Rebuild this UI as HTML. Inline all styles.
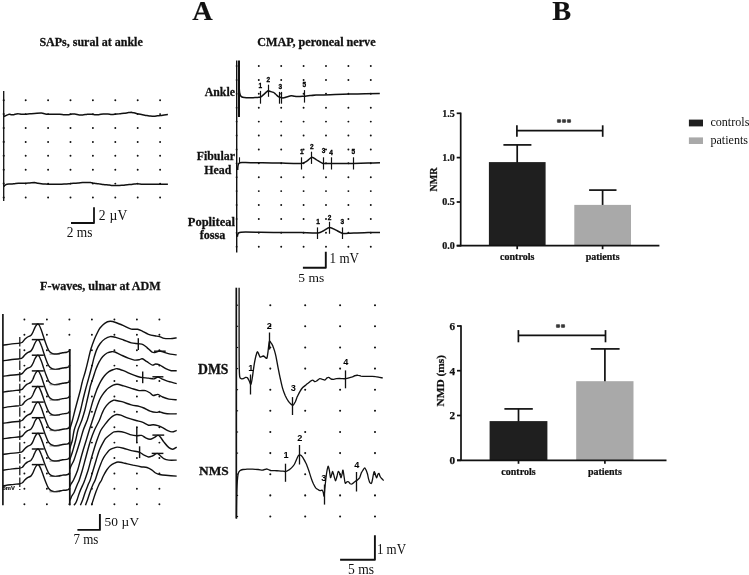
<!DOCTYPE html>
<html><head><meta charset="utf-8"><title>Figure</title>
<style>
html,body{margin:0;padding:0;background:#fff;}
body{width:749px;height:575px;overflow:hidden;font-family:"Liberation Serif",serif;}
svg{display:block;}
svg{filter:grayscale(1);}
</style></head><body>
<svg width="749" height="575" viewBox="0 0 749 575">
<rect x="0" y="0" width="749" height="575" fill="#ffffff"/>
<text x="202.5" y="19.5" font-family="'Liberation Serif', serif" font-size="28.30" font-weight="bold" stroke="#111" stroke-width="0.15" text-anchor="middle" fill="#111" >A</text>
<text x="561.8" y="19.6" font-family="'Liberation Serif', serif" font-size="28.30" font-weight="bold" stroke="#111" stroke-width="0.15" text-anchor="middle" fill="#111" >B</text>
<text x="39.4" y="46.0" font-family="'Liberation Serif', serif" font-size="12.00" font-weight="bold" stroke="#111" stroke-width="0.26" text-anchor="start" fill="#111" >SAPs, sural at ankle</text>
<text x="257.2" y="45.9" font-family="'Liberation Serif', serif" font-size="12.15" font-weight="bold" stroke="#111" stroke-width="0.27" text-anchor="start" fill="#111" >CMAP, peroneal nerve</text>
<text x="40.0" y="289.6" font-family="'Liberation Serif', serif" font-size="12.10" font-weight="bold" stroke="#111" stroke-width="0.27" text-anchor="start" fill="#111" >F-waves, ulnar at ADM</text>
<line x1="3.7" y1="91.0" x2="3.7" y2="201.0" stroke="#111" stroke-width="1.32" />
<path d="M25.7 100.2h0M48.1 100.2h0M70.5 100.2h0M92.9 100.2h0M115.3 100.2h0M137.7 100.2h0M160.1 100.2h0M25.7 114.1h0M48.1 114.1h0M70.5 114.1h0M92.9 114.1h0M115.3 114.1h0M137.7 114.1h0M160.1 114.1h0M25.7 128.0h0M48.1 128.0h0M70.5 128.0h0M92.9 128.0h0M115.3 128.0h0M137.7 128.0h0M160.1 128.0h0M25.7 141.9h0M48.1 141.9h0M70.5 141.9h0M92.9 141.9h0M115.3 141.9h0M137.7 141.9h0M160.1 141.9h0M25.7 155.8h0M48.1 155.8h0M70.5 155.8h0M92.9 155.8h0M115.3 155.8h0M137.7 155.8h0M160.1 155.8h0M25.7 169.7h0M48.1 169.7h0M70.5 169.7h0M92.9 169.7h0M115.3 169.7h0M137.7 169.7h0M160.1 169.7h0M25.7 183.6h0M48.1 183.6h0M70.5 183.6h0M92.9 183.6h0M115.3 183.6h0M137.7 183.6h0M160.1 183.6h0M25.7 197.5h0M48.1 197.5h0M70.5 197.5h0M92.9 197.5h0M115.3 197.5h0M137.7 197.5h0M160.1 197.5h0" stroke="#111" stroke-width="1.95" stroke-linecap="round" fill="none"/>
<path d="M3.7 100.2h0M3.7 114.1h0M3.7 128.0h0M3.7 141.9h0M3.7 155.8h0M3.7 169.7h0M3.7 183.6h0M3.7 197.5h0" stroke="#111" stroke-width="2.08" stroke-linecap="round" fill="none"/>
<path d="M3.9 116.5C4.2 116.4 4.9 116.0 5.7 115.6C6.6 115.2 8.2 114.4 9.2 114.2C10.1 114.1 10.7 114.6 11.5 114.7C12.2 114.8 13.0 114.8 13.8 114.7C14.5 114.6 15.3 114.2 16.1 114.0C16.8 113.9 17.4 113.7 18.4 113.8C19.3 113.8 20.7 114.2 21.8 114.2C23.0 114.3 23.9 114.3 25.3 114.2C26.6 114.2 28.3 113.9 29.9 113.8C31.4 113.7 32.5 113.7 34.4 113.5C36.4 113.4 39.6 113.1 41.3 113.1C43.1 113.1 43.6 113.6 44.8 113.8C45.9 114.0 46.7 114.2 48.2 114.2C49.8 114.3 52.0 114.2 54.0 114.2C55.9 114.2 58.0 114.2 59.7 114.2C61.4 114.3 62.8 114.6 64.3 114.7C65.8 114.8 67.5 114.8 68.9 114.7C70.2 114.6 71.2 114.1 72.3 114.0C73.5 113.9 74.6 114.1 75.8 114.2C76.9 114.4 78.1 114.8 79.2 114.9C80.4 115.0 81.3 115.0 82.7 114.9C84.0 114.8 85.7 114.4 87.3 114.2C88.8 114.1 90.5 114.2 91.8 114.2C93.2 114.3 94.1 114.6 95.3 114.7C96.4 114.8 97.4 114.8 98.7 114.7C100.1 114.6 101.8 114.1 103.3 114.0C104.9 113.9 106.6 113.9 107.9 114.0C109.3 114.1 110.2 114.4 111.4 114.5C112.5 114.5 113.5 114.4 114.8 114.2C116.2 114.1 117.9 113.9 119.4 113.8C120.9 113.6 122.5 113.5 124.0 113.3C125.5 113.1 127.2 112.8 128.6 112.6C129.9 112.5 131.0 112.3 132.0 112.4C133.1 112.5 134.1 112.9 135.0 113.1C136.0 113.3 136.5 113.5 137.8 113.8C139.0 114.0 140.8 114.4 142.4 114.7C143.9 115.0 145.6 115.4 147.0 115.6C148.3 115.8 149.3 116.0 150.4 116.1C151.5 116.2 152.7 116.3 153.8 116.3C155.0 116.3 156.1 116.0 157.3 115.8C158.4 115.7 159.6 115.8 160.7 115.6C161.9 115.5 163.0 115.1 164.2 114.9C165.4 114.7 167.2 114.5 167.9 114.5" fill="none" stroke="#111" stroke-width="1.51" stroke-linejoin="round" stroke-linecap="butt" />
<path d="M3.9 186.5C4.1 186.3 4.6 185.5 5.1 185.2C5.5 184.8 6.0 184.4 6.9 184.2C7.8 184.0 9.2 184.1 10.3 184.0C11.5 183.9 12.4 183.9 13.8 183.8C15.1 183.7 16.8 183.4 18.4 183.3C19.9 183.2 21.2 183.4 23.0 183.3C24.7 183.3 26.8 183.2 28.7 183.1C30.6 183.0 32.9 182.6 34.4 182.6C36.0 182.7 36.7 183.1 37.9 183.3C39.0 183.5 40.2 183.7 41.3 183.8C42.5 183.9 43.6 183.9 44.8 184.0C45.9 184.1 46.7 184.2 48.2 184.2C49.8 184.3 52.0 184.2 54.0 184.2C55.9 184.2 58.0 184.3 59.7 184.2C61.4 184.2 62.8 184.1 64.3 184.0C65.8 183.9 67.4 183.9 68.9 183.8C70.4 183.7 71.9 183.4 73.5 183.3C75.0 183.2 76.5 183.2 78.1 183.1C79.6 183.0 81.1 182.7 82.7 182.6C84.2 182.5 85.9 182.4 87.3 182.4C88.6 182.4 89.7 182.6 90.7 182.6C91.7 182.7 92.1 182.7 93.0 182.9C93.9 183.0 95.0 183.4 96.0 183.5C96.9 183.7 97.5 183.6 98.7 183.8C100.0 183.9 101.8 184.3 103.3 184.5C104.9 184.7 106.6 184.8 107.9 184.9C109.3 185.1 110.2 185.3 111.4 185.4C112.5 185.5 113.5 185.4 114.8 185.4C116.2 185.4 117.9 185.4 119.4 185.4C120.9 185.3 122.7 185.3 124.0 185.2C125.3 185.0 126.3 184.8 127.4 184.7C128.6 184.6 129.7 184.6 130.9 184.5C132.0 184.4 133.2 184.1 134.3 184.0C135.5 183.9 136.4 183.7 137.8 183.8C139.1 183.8 140.8 184.2 142.4 184.2C143.9 184.3 145.0 184.2 147.0 184.2C148.9 184.2 151.5 184.2 153.8 184.2C156.1 184.2 158.4 184.2 160.7 184.2C163.1 184.2 166.7 184.2 167.9 184.2" fill="none" stroke="#111" stroke-width="1.51" stroke-linejoin="round" stroke-linecap="butt" />
<path d="M71.0 223.0L94.0 223.0L94.0 207.2" fill="none" stroke="#111" stroke-width="1.79" stroke-linejoin="round" stroke-linecap="butt" />
<text x="98.8" y="220.3" font-family="'Liberation Serif', serif" font-size="13.60"  text-anchor="start" fill="#111" textLength="28.6">2 µV</text>
<text x="66.8" y="237.3" font-family="'Liberation Serif', serif" font-size="14.20"  text-anchor="start" fill="#111" textLength="25.7" lengthAdjust="spacingAndGlyphs">2 ms</text>
<line x1="236.7" y1="60.5" x2="236.7" y2="252.5" stroke="#111" stroke-width="1.43" />
<line x1="239.0" y1="60.5" x2="239.0" y2="117.0" stroke="#111" stroke-width="2.04" />
<path d="M258.8 66.0h0M281.2 66.0h0M303.6 66.0h0M326.0 66.0h0M348.4 66.0h0M370.8 66.0h0M258.8 79.9h0M281.2 79.9h0M303.6 79.9h0M326.0 79.9h0M348.4 79.9h0M370.8 79.9h0M258.8 93.8h0M281.2 93.8h0M303.6 93.8h0M326.0 93.8h0M348.4 93.8h0M370.8 93.8h0M258.8 107.7h0M281.2 107.7h0M303.6 107.7h0M326.0 107.7h0M348.4 107.7h0M370.8 107.7h0M258.8 121.6h0M281.2 121.6h0M303.6 121.6h0M326.0 121.6h0M348.4 121.6h0M370.8 121.6h0M258.8 135.5h0M281.2 135.5h0M303.6 135.5h0M326.0 135.5h0M348.4 135.5h0M370.8 135.5h0M258.8 149.4h0M281.2 149.4h0M303.6 149.4h0M326.0 149.4h0M348.4 149.4h0M370.8 149.4h0M258.8 163.3h0M281.2 163.3h0M303.6 163.3h0M326.0 163.3h0M348.4 163.3h0M370.8 163.3h0M258.8 177.2h0M281.2 177.2h0M303.6 177.2h0M326.0 177.2h0M348.4 177.2h0M370.8 177.2h0M258.8 191.1h0M281.2 191.1h0M303.6 191.1h0M326.0 191.1h0M348.4 191.1h0M370.8 191.1h0M258.8 205.0h0M281.2 205.0h0M303.6 205.0h0M326.0 205.0h0M348.4 205.0h0M370.8 205.0h0M258.8 218.9h0M281.2 218.9h0M303.6 218.9h0M326.0 218.9h0M348.4 218.9h0M370.8 218.9h0M258.8 232.8h0M281.2 232.8h0M303.6 232.8h0M326.0 232.8h0M348.4 232.8h0M370.8 232.8h0M258.8 246.7h0M281.2 246.7h0M303.6 246.7h0M326.0 246.7h0M348.4 246.7h0M370.8 246.7h0" stroke="#111" stroke-width="1.95" stroke-linecap="round" fill="none"/>
<path d="M236.6 66.0h0M236.6 79.9h0M236.6 93.8h0M236.6 107.7h0M236.6 121.6h0M236.6 135.5h0M236.6 149.4h0M236.6 163.3h0M236.6 177.2h0M236.6 191.1h0M236.6 205.0h0M236.6 218.9h0M236.6 232.8h0M236.6 246.7h0" stroke="#111" stroke-width="1.82" stroke-linecap="round" fill="none"/>
<path d="M239.3 89.5C239.4 90.0 239.5 92.2 239.7 93.0C239.9 93.8 240.2 95.1 240.5 95.6C240.8 96.1 241.5 96.7 242.0 97.0C242.5 97.3 243.7 97.4 244.5 97.5C245.3 97.6 247.1 97.7 248.0 97.7C248.9 97.7 250.5 97.7 251.4 97.7C252.3 97.7 254.1 97.6 255.0 97.6C255.9 97.6 257.3 97.5 258.0 97.4C258.7 97.3 259.7 97.2 260.3 97.0C260.9 96.8 261.6 96.3 262.2 95.9C262.8 95.5 263.9 94.3 264.5 93.8C265.1 93.3 266.1 92.3 266.6 91.9C267.1 91.5 267.7 90.9 268.2 90.8C268.7 90.7 269.8 91.3 270.5 91.5C271.2 91.7 272.7 92.1 273.4 92.4C274.1 92.7 274.9 93.5 275.5 94.0C276.1 94.5 277.3 95.9 278.0 96.4C278.7 96.9 280.1 97.4 280.8 97.6C281.5 97.8 282.4 97.9 283.0 97.9C283.6 97.9 284.4 97.7 285.0 97.5C285.6 97.3 286.6 96.9 287.4 96.7C288.2 96.5 290.2 95.9 291.1 95.8C292.0 95.7 293.3 96.1 294.0 96.2C294.7 96.3 295.9 96.6 296.7 96.6C297.5 96.6 299.0 96.6 300.0 96.5C301.0 96.4 302.9 96.3 304.2 96.2C305.5 96.1 308.4 95.7 310.0 95.6C311.6 95.5 314.2 95.2 316.0 95.1C317.8 95.0 321.0 95.0 323.5 94.9C326.0 94.8 331.4 94.7 335.0 94.6C338.6 94.5 346.2 94.2 350.2 94.1C354.2 94.0 361.1 93.9 365.0 93.8C368.9 93.7 377.8 93.6 379.8 93.6" fill="none" stroke="#111" stroke-width="1.51" stroke-linejoin="round" stroke-linecap="butt" />
<line x1="260.5" y1="90.9" x2="260.5" y2="103.7" stroke="#111" stroke-width="1.19" />
<line x1="268.5" y1="84.7" x2="268.5" y2="96.8" stroke="#111" stroke-width="1.19" />
<line x1="304.5" y1="90.1" x2="304.5" y2="102.6" stroke="#111" stroke-width="1.19" />
<line x1="279.5" y1="91.9" x2="279.5" y2="103.7" stroke="#111" stroke-width="1.19" />
<line x1="281.5" y1="91.9" x2="281.5" y2="103.7" stroke="#111" stroke-width="1.19" />
<text x="260.2" y="88.2" font-family="'Liberation Sans', sans-serif" font-size="6.50" font-weight="bold" text-anchor="middle" fill="#000" stroke="#000" stroke-width="0.29">1</text>
<text x="268.2" y="82.1" font-family="'Liberation Sans', sans-serif" font-size="6.50" font-weight="bold" text-anchor="middle" fill="#000" stroke="#000" stroke-width="0.29">2</text>
<text x="280.3" y="88.5" font-family="'Liberation Sans', sans-serif" font-size="6.50" font-weight="bold" text-anchor="middle" fill="#000" stroke="#000" stroke-width="0.29">3</text>
<text x="304.3" y="87.4" font-family="'Liberation Sans', sans-serif" font-size="6.50" font-weight="bold" text-anchor="middle" fill="#000" stroke="#000" stroke-width="0.29">5</text>
<line x1="239.5" y1="157.3" x2="239.5" y2="162.8" stroke="#111" stroke-width="1.10" />
<path d="M237.7 170.0C237.7 169.6 237.8 167.2 237.9 166.5C238.0 165.8 238.3 164.4 238.5 164.0C238.7 163.6 239.4 163.0 239.8 162.8C240.2 162.6 241.3 162.6 242.0 162.6C242.7 162.6 243.3 162.5 245.6 162.5C248.0 162.6 258.1 162.8 262.3 162.8C266.5 162.9 277.3 163.0 281.8 163.1C286.3 163.2 298.3 163.6 301.3 163.4C304.2 163.2 305.6 161.9 306.8 161.2C308.1 160.4 310.7 157.4 311.8 157.3C313.0 157.1 315.3 159.0 316.6 159.8C317.9 160.5 321.3 163.0 323.0 163.4C324.6 163.8 328.9 163.4 331.0 163.4C333.2 163.4 339.0 163.4 341.6 163.4C344.2 163.4 350.2 163.4 353.3 163.4C356.4 163.3 364.9 163.2 368.0 163.1C371.1 163.0 378.6 162.9 380.0 162.8" fill="none" stroke="#111" stroke-width="1.51" stroke-linejoin="round" stroke-linecap="butt" />
<line x1="301.5" y1="157.3" x2="301.5" y2="169.5" stroke="#111" stroke-width="1.19" />
<line x1="311.5" y1="151.7" x2="311.5" y2="163.9" stroke="#111" stroke-width="1.19" />
<line x1="323.5" y1="157.3" x2="323.5" y2="169.5" stroke="#111" stroke-width="1.19" />
<line x1="331.5" y1="157.3" x2="331.5" y2="169.5" stroke="#111" stroke-width="1.19" />
<line x1="353.5" y1="157.3" x2="353.5" y2="169.5" stroke="#111" stroke-width="1.19" />
<text x="301.8" y="153.9" font-family="'Liberation Sans', sans-serif" font-size="6.50" font-weight="bold" text-anchor="middle" fill="#000" stroke="#000" stroke-width="0.29">1</text>
<text x="311.8" y="148.9" font-family="'Liberation Sans', sans-serif" font-size="6.50" font-weight="bold" text-anchor="middle" fill="#000" stroke="#000" stroke-width="0.29">2</text>
<text x="323.5" y="153.4" font-family="'Liberation Sans', sans-serif" font-size="6.50" font-weight="bold" text-anchor="middle" fill="#000" stroke="#000" stroke-width="0.29">3</text>
<text x="331.0" y="154.5" font-family="'Liberation Sans', sans-serif" font-size="6.50" font-weight="bold" text-anchor="middle" fill="#000" stroke="#000" stroke-width="0.29">4</text>
<text x="353.3" y="153.9" font-family="'Liberation Sans', sans-serif" font-size="6.50" font-weight="bold" text-anchor="middle" fill="#000" stroke="#000" stroke-width="0.29">5</text>
<path d="M237.3 236.8C237.4 236.5 237.6 234.8 237.8 234.3C238.0 233.8 238.5 232.9 238.9 232.7C239.3 232.5 240.2 232.3 241.0 232.2C241.8 232.1 241.8 232.1 245.6 232.1C249.4 232.1 267.0 232.3 273.4 232.4C279.9 232.4 296.1 232.6 301.3 232.6C306.5 232.7 315.4 233.1 318.0 232.9C320.6 232.7 322.2 231.3 323.5 230.7C324.9 230.0 328.2 227.4 329.6 227.4C331.1 227.3 334.5 229.4 336.0 230.1C337.6 230.9 341.4 233.1 343.0 233.5C344.6 233.8 348.3 233.3 349.9 233.2C351.6 233.1 354.8 233.0 356.9 232.9C359.0 232.9 365.3 232.7 368.0 232.6C370.7 232.6 378.6 232.4 380.0 232.4" fill="none" stroke="#111" stroke-width="1.51" stroke-linejoin="round" stroke-linecap="butt" />
<line x1="317.5" y1="227.4" x2="317.5" y2="239.0" stroke="#111" stroke-width="1.19" />
<line x1="329.5" y1="221.8" x2="329.5" y2="233.8" stroke="#111" stroke-width="1.19" />
<line x1="342.5" y1="227.4" x2="342.5" y2="239.0" stroke="#111" stroke-width="1.19" />
<text x="318.0" y="223.5" font-family="'Liberation Sans', sans-serif" font-size="6.50" font-weight="bold" text-anchor="middle" fill="#000" stroke="#000" stroke-width="0.29">1</text>
<text x="329.6" y="219.8" font-family="'Liberation Sans', sans-serif" font-size="6.50" font-weight="bold" text-anchor="middle" fill="#000" stroke="#000" stroke-width="0.29">2</text>
<text x="342.4" y="223.5" font-family="'Liberation Sans', sans-serif" font-size="6.50" font-weight="bold" text-anchor="middle" fill="#000" stroke="#000" stroke-width="0.29">3</text>
<text x="234.9" y="95.9" font-family="'Liberation Serif', serif" font-size="11.80" font-weight="bold" stroke="#111" stroke-width="0.26" text-anchor="end" fill="#111" >Ankle</text>
<text x="235.0" y="160.3" font-family="'Liberation Serif', serif" font-size="11.90" font-weight="bold" stroke="#111" stroke-width="0.26" text-anchor="end" fill="#111" >Fibular</text>
<text x="231.4" y="173.9" font-family="'Liberation Serif', serif" font-size="11.90" font-weight="bold" stroke="#111" stroke-width="0.26" text-anchor="end" fill="#111" >Head</text>
<text x="235.0" y="225.6" font-family="'Liberation Serif', serif" font-size="12.50" font-weight="bold" stroke="#111" stroke-width="0.27" text-anchor="end" fill="#111" >Popliteal</text>
<text x="212.6" y="238.7" font-family="'Liberation Serif', serif" font-size="12.20" font-weight="bold" stroke="#111" stroke-width="0.27" text-anchor="middle" fill="#111" >fossa</text>
<path d="M302.9 267.8L325.8 267.8L325.8 251.7" fill="none" stroke="#111" stroke-width="1.90" stroke-linejoin="round" stroke-linecap="butt" />
<text x="329.6" y="262.5" font-family="'Liberation Serif', serif" font-size="14.00"  text-anchor="start" fill="#111" textLength="29.4" lengthAdjust="spacingAndGlyphs">1 mV</text>
<text x="298.3" y="281.6" font-family="'Liberation Serif', serif" font-size="13.50"  text-anchor="start" fill="#111" >5 ms</text>
<line x1="517.2" y1="144.9" x2="517.2" y2="163.1" stroke="#111" stroke-width="1.71" />
<line x1="503.4" y1="144.9" x2="531.4" y2="144.9" stroke="#111" stroke-width="1.71" />
<rect x="488.9" y="162.1" width="56.7" height="83.6" fill="#1f1f1f"/>
<text x="517.2" y="260.1" font-family="'Liberation Serif', serif" font-size="10.00" font-weight="bold" stroke="#111" stroke-width="0.22" text-anchor="middle" fill="#111" >controls</text>
<line x1="517.2" y1="245.7" x2="517.2" y2="249.2" stroke="#111" stroke-width="1.71" />
<line x1="602.6" y1="190.1" x2="602.6" y2="205.9" stroke="#111" stroke-width="1.71" />
<line x1="589.1" y1="190.1" x2="616.5" y2="190.1" stroke="#111" stroke-width="1.71" />
<rect x="574.3" y="204.9" width="56.7" height="40.8" fill="#a9a9a9"/>
<text x="602.6" y="260.1" font-family="'Liberation Serif', serif" font-size="10.00" font-weight="bold" stroke="#111" stroke-width="0.22" text-anchor="middle" fill="#111" >patients</text>
<line x1="602.6" y1="245.7" x2="602.6" y2="249.2" stroke="#111" stroke-width="1.71" />
<line x1="460.7" y1="112.6" x2="460.7" y2="246.4" stroke="#111" stroke-width="1.71" />
<line x1="456.7" y1="245.7" x2="659.4" y2="245.7" stroke="#111" stroke-width="1.71" />
<line x1="456.7" y1="113.3" x2="460.7" y2="113.3" stroke="#111" stroke-width="1.71" />
<text x="454.7" y="116.7" font-family="'Liberation Serif', serif" font-size="10.00" font-weight="bold" stroke="#111" stroke-width="0.22" text-anchor="end" fill="#111" >1.5</text>
<line x1="456.7" y1="157.6" x2="460.7" y2="157.6" stroke="#111" stroke-width="1.71" />
<text x="454.7" y="161.0" font-family="'Liberation Serif', serif" font-size="10.00" font-weight="bold" stroke="#111" stroke-width="0.22" text-anchor="end" fill="#111" >1.0</text>
<line x1="456.7" y1="202.0" x2="460.7" y2="202.0" stroke="#111" stroke-width="1.71" />
<text x="454.7" y="205.4" font-family="'Liberation Serif', serif" font-size="10.00" font-weight="bold" stroke="#111" stroke-width="0.22" text-anchor="end" fill="#111" >0.5</text>
<line x1="456.7" y1="245.7" x2="460.7" y2="245.7" stroke="#111" stroke-width="1.71" />
<text x="454.7" y="249.1" font-family="'Liberation Serif', serif" font-size="10.00" font-weight="bold" stroke="#111" stroke-width="0.22" text-anchor="end" fill="#111" >0.0</text>
<line x1="516.9" y1="130.6" x2="602.7" y2="130.6" stroke="#111" stroke-width="1.71" />
<line x1="516.9" y1="125.3" x2="516.9" y2="136.8" stroke="#111" stroke-width="1.71" />
<line x1="602.7" y1="125.3" x2="602.7" y2="136.8" stroke="#111" stroke-width="1.71" />
<text x="564.0" y="125.7" font-family="'Liberation Serif', serif" font-size="10.00" font-weight="bold" stroke="#111" stroke-width="0.22" text-anchor="middle" fill="#111" >***</text>
<text transform="translate(437.0 179.5) rotate(-90)" font-family="'Liberation Serif', serif" font-size="10.00" font-weight="bold" stroke="#111" stroke-width="0.22" text-anchor="middle" fill="#111">NMR</text>
<line x1="518.5" y1="408.9" x2="518.5" y2="422.1" stroke="#111" stroke-width="1.71" />
<line x1="504.4" y1="408.9" x2="532.8" y2="408.9" stroke="#111" stroke-width="1.71" />
<rect x="489.6" y="421.1" width="57.8" height="39.2" fill="#1f1f1f"/>
<text x="518.5" y="474.7" font-family="'Liberation Serif', serif" font-size="10.00" font-weight="bold" stroke="#111" stroke-width="0.22" text-anchor="middle" fill="#111" >controls</text>
<line x1="518.5" y1="460.3" x2="518.5" y2="463.8" stroke="#111" stroke-width="1.71" />
<line x1="604.9" y1="348.9" x2="604.9" y2="382.2" stroke="#111" stroke-width="1.71" />
<line x1="590.8" y1="348.9" x2="619.6" y2="348.9" stroke="#111" stroke-width="1.71" />
<rect x="576.2" y="381.2" width="57.3" height="79.1" fill="#a9a9a9"/>
<text x="604.9" y="474.7" font-family="'Liberation Serif', serif" font-size="10.00" font-weight="bold" stroke="#111" stroke-width="0.22" text-anchor="middle" fill="#111" >patients</text>
<line x1="604.9" y1="460.3" x2="604.9" y2="463.8" stroke="#111" stroke-width="1.71" />
<line x1="461.0" y1="325.3" x2="461.0" y2="461.0" stroke="#111" stroke-width="1.71" />
<line x1="457.0" y1="460.3" x2="666.5" y2="460.3" stroke="#111" stroke-width="1.71" />
<line x1="457.0" y1="326.0" x2="461.0" y2="326.0" stroke="#111" stroke-width="1.71" />
<text x="455.0" y="329.8" font-family="'Liberation Serif', serif" font-size="11.20" font-weight="bold" stroke="#111" stroke-width="0.25" text-anchor="end" fill="#111" >6</text>
<line x1="457.0" y1="370.7" x2="461.0" y2="370.7" stroke="#111" stroke-width="1.71" />
<text x="455.0" y="374.5" font-family="'Liberation Serif', serif" font-size="11.20" font-weight="bold" stroke="#111" stroke-width="0.25" text-anchor="end" fill="#111" >4</text>
<line x1="457.0" y1="415.5" x2="461.0" y2="415.5" stroke="#111" stroke-width="1.71" />
<text x="455.0" y="419.3" font-family="'Liberation Serif', serif" font-size="11.20" font-weight="bold" stroke="#111" stroke-width="0.25" text-anchor="end" fill="#111" >2</text>
<line x1="457.0" y1="460.3" x2="461.0" y2="460.3" stroke="#111" stroke-width="1.71" />
<text x="455.0" y="464.1" font-family="'Liberation Serif', serif" font-size="11.20" font-weight="bold" stroke="#111" stroke-width="0.25" text-anchor="end" fill="#111" >0</text>
<line x1="518.4" y1="335.3" x2="605.5" y2="335.3" stroke="#111" stroke-width="1.71" />
<line x1="518.4" y1="330.1" x2="518.4" y2="342.3" stroke="#111" stroke-width="1.71" />
<line x1="605.5" y1="330.1" x2="605.5" y2="342.3" stroke="#111" stroke-width="1.71" />
<text x="560.6" y="330.6" font-family="'Liberation Serif', serif" font-size="10.00" font-weight="bold" stroke="#111" stroke-width="0.22" text-anchor="middle" fill="#111" >**</text>
<text transform="translate(444.0 380.7) rotate(-90)" font-family="'Liberation Serif', serif" font-size="11.40" font-weight="bold" stroke="#111" stroke-width="0.22" text-anchor="middle" fill="#111">NMD (ms)</text>
<rect x="688.9" y="119.6" width="14.1" height="6.8" fill="#1f1f1f"/>
<rect x="688.9" y="137.4" width="14.1" height="6.6" fill="#a9a9a9"/>
<text x="710.4" y="126.4" font-family="'Liberation Serif', serif" font-size="12.10"  text-anchor="start" fill="#111" >controls</text>
<text x="710.4" y="144.0" font-family="'Liberation Serif', serif" font-size="12.10"  text-anchor="start" fill="#111" >patients</text>
<path d="M24.4 319.4h0M46.9 319.4h0M69.4 319.4h0M91.9 319.4h0M114.4 319.4h0M136.9 319.4h0M159.4 319.4h0M24.4 334.8h0M46.9 334.8h0M69.4 334.8h0M91.9 334.8h0M114.4 334.8h0M136.9 334.8h0M159.4 334.8h0M24.4 350.2h0M46.9 350.2h0M69.4 350.2h0M91.9 350.2h0M114.4 350.2h0M136.9 350.2h0M159.4 350.2h0M24.4 365.6h0M46.9 365.6h0M69.4 365.6h0M91.9 365.6h0M114.4 365.6h0M136.9 365.6h0M159.4 365.6h0M24.4 381.0h0M46.9 381.0h0M69.4 381.0h0M91.9 381.0h0M114.4 381.0h0M136.9 381.0h0M159.4 381.0h0M24.4 396.4h0M46.9 396.4h0M69.4 396.4h0M91.9 396.4h0M114.4 396.4h0M136.9 396.4h0M159.4 396.4h0M24.4 411.8h0M46.9 411.8h0M69.4 411.8h0M91.9 411.8h0M114.4 411.8h0M136.9 411.8h0M159.4 411.8h0M24.4 427.2h0M46.9 427.2h0M69.4 427.2h0M91.9 427.2h0M114.4 427.2h0M136.9 427.2h0M159.4 427.2h0M24.4 442.6h0M46.9 442.6h0M69.4 442.6h0M91.9 442.6h0M114.4 442.6h0M136.9 442.6h0M159.4 442.6h0M24.4 458.0h0M46.9 458.0h0M69.4 458.0h0M91.9 458.0h0M114.4 458.0h0M136.9 458.0h0M159.4 458.0h0M24.4 473.4h0M46.9 473.4h0M69.4 473.4h0M91.9 473.4h0M114.4 473.4h0M136.9 473.4h0M159.4 473.4h0M24.4 488.8h0M46.9 488.8h0M69.4 488.8h0M91.9 488.8h0M114.4 488.8h0M136.9 488.8h0M159.4 488.8h0M24.4 504.2h0M46.9 504.2h0M69.4 504.2h0M91.9 504.2h0M114.4 504.2h0M136.9 504.2h0M159.4 504.2h0" stroke="#111" stroke-width="1.95" stroke-linecap="round" fill="none"/>
<line x1="2.9" y1="314.0" x2="2.9" y2="505.3" stroke="#111" stroke-width="1.65" />
<line x1="19.8" y1="337.0" x2="19.8" y2="490.0" stroke="#111" stroke-width="1.21" stroke-dasharray="9.5 2.2"/>
<line x1="69.8" y1="349.0" x2="69.8" y2="505.3" stroke="#111" stroke-width="1.76" />
<path d="M2.9 345.2C3.9 345.1 8.1 344.4 10.4 344.1C12.7 343.8 18.2 343.4 19.8 343.1C21.4 342.8 21.7 342.7 22.4 342.2C23.1 341.7 24.3 339.8 25.0 339.1C25.7 338.4 26.8 337.5 27.6 337.0C28.4 336.5 30.1 336.1 30.8 335.5C31.5 334.9 32.4 333.4 32.9 332.3C33.4 331.2 34.4 328.6 34.9 327.6C35.4 326.6 36.1 325.5 36.5 325.0C36.9 324.5 37.5 324.0 37.8 324.0C38.1 324.0 38.6 324.2 39.1 325.0C39.6 325.8 40.6 328.2 41.2 329.7C41.8 331.2 42.7 334.1 43.3 336.0C43.9 337.9 45.2 341.9 45.9 343.8C46.6 345.7 47.8 348.9 48.5 350.1C49.2 351.3 50.3 352.4 51.1 352.9C51.9 353.4 53.2 353.9 54.2 354.0C55.2 354.1 57.3 353.9 58.4 353.7C59.5 353.5 61.5 352.9 62.6 352.7C63.7 352.5 65.9 352.4 66.8 352.2C67.7 352.0 69.3 351.2 69.7 351.1" fill="none" stroke="#111" stroke-width="1.40" stroke-linejoin="round" stroke-linecap="butt" />
<line x1="31.8" y1="324.0" x2="43.8" y2="324.0" stroke="#111" stroke-width="1.49" />
<line x1="49.5" y1="354.2" x2="60.0" y2="354.2" stroke="#444" stroke-width="0.66" />
<path d="M2.9 360.8C3.9 360.7 8.1 360.0 10.4 359.7C12.7 359.4 18.2 359.0 19.8 358.7C21.4 358.5 21.7 358.4 22.4 357.8C23.1 357.3 24.3 355.4 25.0 354.7C25.7 354.0 26.8 353.1 27.6 352.6C28.4 352.1 30.1 351.7 30.8 351.1C31.5 350.5 32.4 349.0 32.9 347.9C33.4 346.9 34.4 344.2 34.9 343.2C35.4 342.2 36.1 341.1 36.5 340.6C36.9 340.1 37.5 339.6 37.8 339.6C38.1 339.6 38.6 339.9 39.1 340.6C39.6 341.4 40.6 343.8 41.2 345.3C41.8 346.7 42.7 349.6 43.3 351.5C43.9 353.3 45.2 357.3 45.9 359.2C46.6 361.1 47.8 364.2 48.5 365.4C49.2 366.6 50.3 367.7 51.1 368.2C51.9 368.7 53.2 369.2 54.2 369.3C55.2 369.4 57.3 369.2 58.4 369.0C59.5 368.8 61.5 368.2 62.6 368.0C63.7 367.8 65.9 367.7 66.8 367.5C67.7 367.3 69.3 366.6 69.7 366.4" fill="none" stroke="#111" stroke-width="1.40" stroke-linejoin="round" stroke-linecap="butt" />
<line x1="31.8" y1="339.6" x2="43.8" y2="339.6" stroke="#111" stroke-width="1.49" />
<line x1="49.5" y1="369.5" x2="60.0" y2="369.5" stroke="#444" stroke-width="0.66" />
<path d="M2.9 376.4C3.9 376.3 8.1 375.6 10.4 375.3C12.7 375.1 18.2 374.6 19.8 374.3C21.4 374.1 21.7 374.0 22.4 373.4C23.1 372.9 24.3 371.0 25.0 370.3C25.7 369.6 26.8 368.7 27.6 368.2C28.4 367.8 30.1 367.4 30.8 366.7C31.5 366.1 32.4 364.6 32.9 363.5C33.4 362.5 34.4 359.8 34.9 358.8C35.4 357.9 36.1 356.7 36.5 356.2C36.9 355.8 37.5 355.2 37.8 355.2C38.1 355.2 38.6 355.5 39.1 356.2C39.6 357.0 40.6 359.4 41.2 360.8C41.8 362.2 42.7 365.1 43.3 367.0C43.9 368.8 45.2 372.8 45.9 374.6C46.6 376.4 47.8 379.6 48.5 380.8C49.2 382.0 50.3 383.0 51.1 383.5C51.9 384.0 53.2 384.5 54.2 384.6C55.2 384.7 57.3 384.5 58.4 384.3C59.5 384.1 61.5 383.5 62.6 383.3C63.7 383.1 65.9 383.0 66.8 382.8C67.7 382.6 69.3 381.9 69.7 381.7" fill="none" stroke="#111" stroke-width="1.40" stroke-linejoin="round" stroke-linecap="butt" />
<line x1="31.8" y1="355.2" x2="43.8" y2="355.2" stroke="#111" stroke-width="1.49" />
<line x1="49.5" y1="384.8" x2="60.0" y2="384.8" stroke="#444" stroke-width="0.66" />
<path d="M2.9 392.1C3.9 391.9 8.1 391.2 10.4 391.0C12.7 390.7 18.2 390.2 19.8 390.0C21.4 389.7 21.7 389.6 22.4 389.1C23.1 388.5 24.3 386.7 25.0 386.0C25.7 385.3 26.8 384.3 27.6 383.9C28.4 383.4 30.1 383.0 30.8 382.4C31.5 381.7 32.4 380.2 32.9 379.2C33.4 378.1 34.4 375.4 34.9 374.5C35.4 373.5 36.1 372.3 36.5 371.9C36.9 371.4 37.5 370.9 37.8 370.9C38.1 370.9 38.6 371.1 39.1 371.8C39.6 372.6 40.6 375.0 41.2 376.4C41.8 377.8 42.7 380.6 43.3 382.5C43.9 384.3 45.2 388.2 45.9 390.0C46.6 391.8 47.8 394.9 48.5 396.1C49.2 397.3 50.3 398.3 51.1 398.8C51.9 399.3 53.2 399.8 54.2 399.9C55.2 400.0 57.3 399.7 58.4 399.6C59.5 399.4 61.5 398.8 62.6 398.6C63.7 398.4 65.9 398.3 66.8 398.1C67.7 397.9 69.3 397.2 69.7 397.1" fill="none" stroke="#111" stroke-width="1.40" stroke-linejoin="round" stroke-linecap="butt" />
<line x1="31.8" y1="370.9" x2="43.8" y2="370.9" stroke="#111" stroke-width="1.49" />
<line x1="49.5" y1="400.1" x2="60.0" y2="400.1" stroke="#444" stroke-width="0.66" />
<path d="M2.9 407.7C3.9 407.5 8.1 406.9 10.4 406.6C12.7 406.3 18.2 405.8 19.8 405.6C21.4 405.3 21.7 405.2 22.4 404.7C23.1 404.1 24.3 402.3 25.0 401.6C25.7 400.9 26.8 400.0 27.6 399.5C28.4 399.0 30.1 398.6 30.8 398.0C31.5 397.4 32.4 395.8 32.9 394.8C33.4 393.7 34.4 391.1 34.9 390.1C35.4 389.1 36.1 388.0 36.5 387.5C36.9 387.0 37.5 386.5 37.8 386.5C38.1 386.5 38.6 386.7 39.1 387.4C39.6 388.2 40.6 390.5 41.2 391.9C41.8 393.3 42.7 396.2 43.3 398.0C43.9 399.7 45.2 403.6 45.9 405.4C46.6 407.2 47.8 410.3 48.5 411.4C49.2 412.6 50.3 413.6 51.1 414.1C51.9 414.6 53.2 415.1 54.2 415.2C55.2 415.3 57.3 415.0 58.4 414.9C59.5 414.7 61.5 414.1 62.6 413.9C63.7 413.7 65.9 413.6 66.8 413.4C67.7 413.2 69.3 412.5 69.7 412.4" fill="none" stroke="#111" stroke-width="1.40" stroke-linejoin="round" stroke-linecap="butt" />
<line x1="31.8" y1="386.5" x2="43.8" y2="386.5" stroke="#111" stroke-width="1.49" />
<line x1="49.5" y1="415.4" x2="60.0" y2="415.4" stroke="#444" stroke-width="0.66" />
<path d="M2.9 423.3C3.9 423.2 8.1 422.5 10.4 422.2C12.7 421.9 18.2 421.5 19.8 421.2C21.4 420.9 21.7 420.8 22.4 420.3C23.1 419.8 24.3 417.9 25.0 417.2C25.7 416.5 26.8 415.6 27.6 415.1C28.4 414.6 30.1 414.2 30.8 413.6C31.5 413.0 32.4 411.5 32.9 410.4C33.4 409.3 34.4 406.7 34.9 405.7C35.4 404.7 36.1 403.6 36.5 403.1C36.9 402.6 37.5 402.1 37.8 402.1C38.1 402.1 38.6 402.3 39.1 403.0C39.6 403.8 40.6 406.1 41.2 407.5C41.8 408.9 42.7 411.7 43.3 413.4C43.9 415.2 45.2 419.0 45.9 420.8C46.6 422.6 47.8 425.6 48.5 426.8C49.2 427.9 50.3 428.9 51.1 429.4C51.9 429.9 53.2 430.3 54.2 430.5C55.2 430.6 57.3 430.3 58.4 430.2C59.5 430.0 61.5 429.4 62.6 429.2C63.7 429.0 65.9 429.0 66.8 428.7C67.7 428.5 69.3 427.8 69.7 427.7" fill="none" stroke="#111" stroke-width="1.40" stroke-linejoin="round" stroke-linecap="butt" />
<line x1="31.8" y1="402.1" x2="43.8" y2="402.1" stroke="#111" stroke-width="1.49" />
<line x1="49.5" y1="430.6" x2="60.0" y2="430.6" stroke="#444" stroke-width="0.66" />
<path d="M2.9 438.9C3.9 438.8 8.1 438.1 10.4 437.8C12.7 437.5 18.2 437.1 19.8 436.8C21.4 436.6 21.7 436.5 22.4 435.9C23.1 435.4 24.3 433.5 25.0 432.8C25.7 432.1 26.8 431.2 27.6 430.7C28.4 430.2 30.1 429.8 30.8 429.2C31.5 428.6 32.4 427.1 32.9 426.0C33.4 425.0 34.4 422.3 34.9 421.3C35.4 420.3 36.1 419.2 36.5 418.7C36.9 418.2 37.5 417.7 37.8 417.7C38.1 417.7 38.6 417.9 39.1 418.7C39.6 419.4 40.6 421.7 41.2 423.0C41.8 424.4 42.7 427.2 43.3 428.9C43.9 430.7 45.2 434.5 45.9 436.2C46.6 438.0 47.8 441.0 48.5 442.1C49.2 443.2 50.3 444.2 51.1 444.7C51.9 445.2 53.2 445.6 54.2 445.7C55.2 445.8 57.3 445.6 58.4 445.5C59.5 445.3 61.5 444.7 62.6 444.5C63.7 444.3 65.9 444.3 66.8 444.1C67.7 443.9 69.3 443.2 69.7 443.0" fill="none" stroke="#111" stroke-width="1.40" stroke-linejoin="round" stroke-linecap="butt" />
<line x1="31.8" y1="417.7" x2="43.8" y2="417.7" stroke="#111" stroke-width="1.49" />
<line x1="49.5" y1="445.9" x2="60.0" y2="445.9" stroke="#444" stroke-width="0.66" />
<path d="M2.9 454.5C3.9 454.4 8.1 453.7 10.4 453.4C12.7 453.2 18.2 452.7 19.8 452.4C21.4 452.2 21.7 452.1 22.4 451.5C23.1 451.0 24.3 449.1 25.0 448.4C25.7 447.7 26.8 446.8 27.6 446.3C28.4 445.9 30.1 445.5 30.8 444.8C31.5 444.2 32.4 442.7 32.9 441.6C33.4 440.6 34.4 437.9 34.9 436.9C35.4 436.0 36.1 434.8 36.5 434.3C36.9 433.9 37.5 433.4 37.8 433.3C38.1 433.3 38.6 433.6 39.1 434.3C39.6 435.0 40.6 437.2 41.2 438.6C41.8 440.0 42.7 442.7 43.3 444.4C43.9 446.2 45.2 449.9 45.9 451.6C46.6 453.4 47.8 456.3 48.5 457.4C49.2 458.6 50.3 459.5 51.1 460.0C51.9 460.5 53.2 460.9 54.2 461.0C55.2 461.1 57.3 460.9 58.4 460.8C59.5 460.6 61.5 460.0 62.6 459.8C63.7 459.6 65.9 459.6 66.8 459.4C67.7 459.2 69.3 458.5 69.7 458.4" fill="none" stroke="#111" stroke-width="1.40" stroke-linejoin="round" stroke-linecap="butt" />
<line x1="31.8" y1="433.3" x2="43.8" y2="433.3" stroke="#111" stroke-width="1.49" />
<line x1="49.5" y1="461.2" x2="60.0" y2="461.2" stroke="#444" stroke-width="0.66" />
<path d="M2.9 470.2C3.9 470.0 8.1 469.3 10.4 469.1C12.7 468.8 18.2 468.3 19.8 468.1C21.4 467.8 21.7 467.7 22.4 467.2C23.1 466.6 24.3 464.8 25.0 464.1C25.7 463.4 26.8 462.4 27.6 462.0C28.4 461.5 30.1 461.1 30.8 460.5C31.5 459.8 32.4 458.3 32.9 457.3C33.4 456.2 34.4 453.5 34.9 452.6C35.4 451.6 36.1 450.4 36.5 450.0C36.9 449.5 37.5 449.0 37.8 449.0C38.1 448.9 38.6 449.2 39.1 449.9C39.6 450.6 40.6 452.8 41.2 454.2C41.8 455.5 42.7 458.2 43.3 459.9C43.9 461.6 45.2 465.3 45.9 467.0C46.6 468.7 47.8 471.7 48.5 472.8C49.2 473.9 50.3 474.8 51.1 475.3C51.9 475.8 53.2 476.2 54.2 476.3C55.2 476.4 57.3 476.2 58.4 476.0C59.5 475.9 61.5 475.3 62.6 475.1C63.7 475.0 65.9 474.9 66.8 474.7C67.7 474.5 69.3 473.8 69.7 473.7" fill="none" stroke="#111" stroke-width="1.40" stroke-linejoin="round" stroke-linecap="butt" />
<line x1="31.8" y1="449.0" x2="43.8" y2="449.0" stroke="#111" stroke-width="1.49" />
<line x1="49.5" y1="476.5" x2="60.0" y2="476.5" stroke="#444" stroke-width="0.66" />
<path d="M2.9 485.8C3.9 485.6 8.1 485.0 10.4 484.7C12.7 484.4 18.2 483.9 19.8 483.7C21.4 483.4 21.7 483.3 22.4 482.8C23.1 482.2 24.3 480.4 25.0 479.7C25.7 479.0 26.8 478.1 27.6 477.6C28.4 477.1 30.1 476.7 30.8 476.1C31.5 475.5 32.4 473.9 32.9 472.9C33.4 471.8 34.4 469.2 34.9 468.2C35.4 467.2 36.1 466.1 36.5 465.6C36.9 465.1 37.5 464.6 37.8 464.6C38.1 464.6 38.6 464.8 39.1 465.5C39.6 466.2 40.6 468.4 41.2 469.7C41.8 471.0 42.7 473.7 43.3 475.4C43.9 477.1 45.2 480.7 45.9 482.4C46.6 484.1 47.8 487.0 48.5 488.1C49.2 489.2 50.3 490.2 51.1 490.6C51.9 491.1 53.2 491.5 54.2 491.6C55.2 491.7 57.3 491.5 58.4 491.3C59.5 491.2 61.5 490.6 62.6 490.4C63.7 490.3 65.9 490.2 66.8 490.0C67.7 489.8 69.3 489.1 69.7 489.0" fill="none" stroke="#111" stroke-width="1.40" stroke-linejoin="round" stroke-linecap="butt" />
<line x1="31.8" y1="464.6" x2="43.8" y2="464.6" stroke="#111" stroke-width="1.49" />
<line x1="49.5" y1="491.8" x2="60.0" y2="491.8" stroke="#444" stroke-width="0.66" />
<text x="2.6" y="489.6" font-family="'Liberation Sans', sans-serif" font-size="5.8" font-weight="bold" fill="#111" stroke="#111" stroke-width="0.2">5mV</text>
<path d="M69.9 429.5C70.0 429.1 70.2 427.9 70.6 426.5C71.0 425.1 71.8 422.5 72.5 420.0C73.2 417.5 74.2 413.0 75.0 410.0C75.8 407.0 76.9 403.0 77.7 400.0C78.5 397.0 79.7 392.7 80.4 390.0C81.1 387.3 81.5 384.5 82.3 381.7C83.0 378.9 84.5 374.7 85.4 371.3C86.3 367.9 87.6 362.5 88.4 359.1C89.2 355.7 90.1 351.6 91.0 348.7C91.9 345.8 93.2 342.3 94.1 340.0C95.0 337.7 96.1 335.3 97.0 333.5C97.9 331.7 98.8 329.5 100.0 328.0C101.2 326.5 103.2 324.3 104.7 323.3C106.2 322.3 108.5 321.4 110.2 321.3C111.9 321.2 113.7 321.8 115.7 322.5C117.7 323.2 121.2 324.7 123.5 325.7C125.8 326.7 129.2 328.6 131.3 329.1C133.4 329.6 135.9 329.0 137.6 329.3C139.2 329.6 140.7 330.4 142.3 331.1C143.9 331.9 146.6 333.6 148.5 334.3C150.4 335.0 153.2 335.5 154.8 335.8C156.5 336.1 158.1 336.2 159.5 336.6C160.9 337.0 162.6 338.1 164.2 338.4C165.8 338.7 168.5 338.7 170.4 338.6C172.3 338.5 175.8 338.0 176.7 337.9" fill="none" stroke="#111" stroke-width="1.40" stroke-linejoin="round" stroke-linecap="butt" />
<path d="M69.9 448.5C70.0 448.1 70.3 446.8 70.7 445.5C71.1 444.2 71.9 442.3 72.4 440.0C72.9 437.7 73.4 433.0 74.2 430.0C75.0 427.0 76.7 423.0 77.7 420.0C78.7 417.0 79.8 413.0 80.6 410.0C81.4 407.0 82.2 403.0 82.9 400.0C83.6 397.0 84.6 393.1 85.4 390.0C86.2 386.9 87.5 382.4 88.4 379.1C89.3 375.8 90.6 371.1 91.5 367.8C92.4 364.5 93.3 360.1 94.1 357.4C94.9 354.7 95.8 351.7 96.7 349.6C97.6 347.5 99.0 345.1 100.2 343.5C101.4 341.9 103.2 340.0 104.7 339.0C106.2 338.0 108.5 336.8 110.2 336.6C111.9 336.4 113.7 336.9 115.7 337.4C117.7 337.9 121.2 339.2 123.5 340.0C125.8 340.8 129.1 342.3 131.3 342.9C133.5 343.5 136.5 343.4 138.3 343.7C140.1 344.0 141.7 344.0 143.0 344.6C144.3 345.2 145.7 346.5 147.0 347.6C148.3 348.7 150.5 351.1 151.7 351.9C152.9 352.6 153.6 352.7 154.8 352.6C156.0 352.5 158.1 351.0 159.5 351.0C160.9 351.0 162.6 351.8 164.2 352.3C165.8 352.8 168.5 353.7 170.4 354.1C172.3 354.5 175.8 354.8 176.7 354.9" fill="none" stroke="#111" stroke-width="1.40" stroke-linejoin="round" stroke-linecap="butt" />
<path d="M69.9 459.5C70.1 459.1 70.4 457.9 70.9 456.5C71.4 455.1 72.3 452.5 73.0 450.0C73.7 447.5 75.0 443.0 75.7 440.0C76.5 437.0 77.1 433.0 78.0 430.0C78.9 427.0 80.9 423.0 81.9 420.0C82.9 417.0 84.1 413.0 84.9 410.0C85.7 407.0 86.5 403.0 87.2 400.0C87.9 397.0 89.0 392.2 89.5 390.0C90.0 387.8 90.0 387.1 90.6 385.2C91.2 383.3 92.4 379.7 93.2 377.4C94.0 375.1 94.9 372.0 95.8 369.6C96.7 367.2 98.2 363.7 99.3 361.7C100.3 359.7 101.6 357.8 102.8 356.5C104.0 355.2 105.8 353.7 107.1 353.0C108.4 352.3 110.3 351.8 111.5 351.7C112.7 351.6 113.6 351.6 114.9 352.0C116.2 352.4 118.3 353.7 120.3 354.6C122.3 355.5 126.1 357.4 128.2 358.2C130.3 359.0 132.8 359.9 134.4 360.1C136.0 360.3 137.9 360.0 139.1 359.8C140.3 359.6 141.1 358.5 142.3 358.8C143.5 359.1 145.5 360.8 147.0 361.7C148.5 362.6 151.1 364.8 152.4 365.1C153.7 365.4 154.5 364.0 155.6 364.0C156.7 364.0 158.0 364.1 159.5 364.8C161.0 365.5 163.9 367.8 165.7 368.7C167.5 369.6 169.5 370.4 171.2 370.7C172.8 371.0 175.9 370.7 176.7 370.7" fill="none" stroke="#111" stroke-width="1.40" stroke-linejoin="round" stroke-linecap="butt" />
<path d="M69.9 469.0C70.1 468.6 70.4 467.4 71.0 466.0C71.6 464.6 73.1 462.4 74.0 460.0C74.9 457.6 76.3 453.0 77.3 450.0C78.3 447.0 79.5 443.0 80.4 440.0C81.3 437.0 82.3 433.0 83.3 430.0C84.3 427.0 86.2 423.0 87.3 420.0C88.3 417.0 89.4 413.0 90.3 410.0C91.2 407.0 92.2 403.0 93.2 400.0C94.2 397.0 95.9 392.1 96.7 390.0C97.5 387.9 97.8 387.5 98.4 386.1C99.0 384.7 100.1 382.5 101.0 380.9C101.9 379.3 103.3 377.1 104.5 375.7C105.7 374.3 107.6 372.6 108.9 371.7C110.2 370.8 112.0 370.1 113.2 369.6C114.4 369.2 115.7 368.5 117.2 368.7C118.7 368.9 121.4 369.9 123.5 370.7C125.6 371.5 129.2 373.3 131.3 374.2C133.4 375.1 135.9 376.0 137.6 376.5C139.3 377.0 141.1 377.4 142.7 377.6C144.3 377.8 146.8 377.9 148.5 378.1C150.2 378.3 152.6 379.1 154.0 378.9C155.4 378.7 156.7 377.0 157.9 377.0C159.1 377.0 160.4 378.3 161.8 378.9C163.2 379.5 165.1 380.5 167.3 381.2C169.5 381.9 175.3 383.2 176.7 383.6" fill="none" stroke="#111" stroke-width="1.40" stroke-linejoin="round" stroke-linecap="butt" />
<path d="M69.9 486.5C70.1 486.1 70.5 485.0 71.0 484.0C71.5 483.0 72.5 482.1 73.5 480.0C74.5 477.9 76.7 473.0 77.7 470.0C78.7 467.0 79.6 463.0 80.4 460.0C81.2 457.0 82.3 453.0 83.2 450.0C84.1 447.0 85.4 443.0 86.3 440.0C87.2 437.0 88.4 433.0 89.3 430.0C90.2 427.0 91.6 423.0 92.6 420.0C93.6 417.0 94.8 413.0 95.8 410.0C96.8 407.0 98.5 402.4 99.5 400.0C100.5 397.6 101.8 395.8 102.8 394.3C103.8 392.8 105.4 391.0 106.3 390.0C107.2 389.0 107.9 388.5 108.9 387.8C109.9 387.1 112.0 385.7 113.2 385.2C114.4 384.7 115.7 384.2 117.2 384.3C118.7 384.4 121.4 385.3 123.5 385.9C125.6 386.5 129.0 387.6 131.3 388.3C133.6 389.0 137.0 390.3 139.1 390.6C141.2 390.9 143.8 390.2 145.4 390.6C147.1 391.0 148.9 392.3 150.1 393.0C151.3 393.7 152.0 395.3 153.2 395.5C154.4 395.7 156.5 394.2 157.9 394.4C159.3 394.6 160.9 396.3 162.6 397.0C164.2 397.7 166.8 398.7 168.9 399.1C171.0 399.5 175.5 399.7 176.7 399.8" fill="none" stroke="#111" stroke-width="1.40" stroke-linejoin="round" stroke-linecap="butt" />
<path d="M69.9 500.5C70.0 500.2 70.5 499.1 70.8 498.4C71.1 497.7 71.3 496.9 71.8 496.0C72.3 495.1 73.3 494.0 74.2 492.2C75.1 490.4 76.7 485.8 77.5 484.0C78.3 482.2 78.6 482.1 79.3 480.0C80.0 477.9 81.5 473.0 82.4 470.0C83.3 467.0 84.3 463.0 85.1 460.0C85.9 457.0 87.0 453.0 87.8 450.0C88.6 447.0 89.7 443.0 90.7 440.0C91.7 437.0 93.2 433.0 94.5 430.0C95.8 427.0 98.4 422.5 99.5 420.0C100.6 417.5 101.2 415.3 102.0 413.5C102.8 411.7 103.5 409.9 104.5 408.3C105.5 406.7 107.6 404.2 108.9 403.0C110.2 401.8 112.3 400.8 113.2 400.4C114.1 400.0 113.6 400.0 114.9 400.2C116.2 400.4 119.4 401.0 121.9 401.7C124.4 402.4 128.7 404.2 131.3 404.9C133.9 405.6 137.2 405.9 139.1 406.4C141.0 406.9 142.2 407.3 143.8 408.0C145.5 408.7 148.2 410.4 150.1 411.1C152.0 411.8 154.9 412.3 156.3 412.4C157.7 412.5 158.3 411.8 159.5 411.9C160.7 412.0 162.6 412.9 164.2 413.2C165.8 413.5 168.5 413.8 170.4 413.9C172.3 414.0 175.8 413.8 176.7 413.8" fill="none" stroke="#111" stroke-width="1.40" stroke-linejoin="round" stroke-linecap="butt" />
<path d="M73.9 505.2C74.2 504.9 75.1 504.1 75.6 503.2C76.1 502.3 76.6 501.0 77.2 499.4C77.8 497.8 78.7 494.5 79.6 492.2C80.5 489.9 82.4 485.8 83.2 484.0C84.0 482.2 84.0 482.1 84.8 480.0C85.5 477.9 87.3 473.0 88.2 470.0C89.1 467.0 90.1 463.0 90.9 460.0C91.7 457.0 92.9 453.0 93.8 450.0C94.7 447.0 95.9 443.0 97.0 440.0C98.1 437.0 99.7 432.4 101.0 430.0C102.3 427.6 104.3 425.4 105.4 423.9C106.5 422.4 107.5 421.1 108.5 420.0C109.5 418.9 111.2 417.1 112.4 416.3C113.6 415.5 115.2 414.7 116.5 414.5C117.8 414.3 119.0 414.5 120.8 415.1C122.6 415.7 125.9 417.4 128.2 418.2C130.5 419.0 133.9 419.9 136.0 420.5C138.1 421.1 140.4 421.4 142.3 422.1C144.2 422.8 146.9 424.8 148.5 425.2C150.1 425.6 151.8 424.6 153.2 424.7C154.6 424.8 156.5 425.3 157.9 425.7C159.3 426.1 161.2 426.9 162.6 427.6C164.0 428.3 165.9 429.8 167.3 430.4C168.7 431.0 170.6 431.9 172.0 431.9C173.4 431.9 176.0 430.6 176.7 430.4" fill="none" stroke="#111" stroke-width="1.40" stroke-linejoin="round" stroke-linecap="butt" />
<path d="M80.4 505.2C80.8 504.3 82.1 501.3 82.8 499.4C83.5 497.4 84.4 494.5 85.2 492.2C86.0 489.9 87.7 485.8 88.4 484.0C89.2 482.2 89.5 482.1 90.2 480.0C90.9 477.9 92.3 473.0 93.2 470.0C94.1 467.0 95.3 463.0 96.2 460.0C97.1 457.0 98.2 453.0 99.4 450.0C100.6 447.0 103.5 441.8 104.5 440.0C105.5 438.2 105.2 438.8 106.3 437.8C107.3 436.8 110.3 434.4 111.5 433.5C112.7 432.6 113.0 432.2 114.1 431.9C115.2 431.6 117.2 431.4 118.8 431.5C120.4 431.6 123.1 432.1 125.0 432.6C126.9 433.1 129.5 434.4 131.3 434.9C133.1 435.4 135.3 435.6 136.8 435.7C138.3 435.8 140.2 435.1 141.5 435.4C142.8 435.7 144.1 437.1 145.4 437.7C146.7 438.3 148.8 439.3 150.1 439.3C151.4 439.3 152.8 438.3 154.0 437.7C155.2 437.1 157.0 435.5 157.9 435.4C158.8 435.3 159.4 435.9 160.3 437.0C161.2 438.1 162.9 440.8 164.2 442.4C165.5 444.0 167.6 446.6 168.9 447.6C170.2 448.6 171.6 449.3 172.8 449.2C174.0 449.1 176.1 447.4 176.7 447.1" fill="none" stroke="#111" stroke-width="1.40" stroke-linejoin="round" stroke-linecap="butt" />
<path d="M85.5 505.2C85.8 504.3 86.9 501.3 87.6 499.4C88.3 497.4 89.2 494.5 90.0 492.2C90.8 489.9 92.4 485.8 93.2 484.0C94.0 482.2 94.4 482.1 95.2 480.0C96.0 477.9 97.4 473.0 98.5 470.0C99.6 467.0 101.4 462.2 102.4 460.0C103.4 457.8 103.8 457.1 104.9 455.6C106.0 454.1 108.2 451.1 109.5 450.0C110.8 448.9 112.1 448.6 113.3 448.2C114.5 447.8 115.7 447.1 117.2 447.1C118.7 447.1 121.4 447.7 123.5 448.2C125.6 448.7 128.9 450.0 131.3 450.6C133.7 451.2 137.7 451.6 139.6 452.3C141.5 453.0 142.5 454.3 143.8 455.0C145.1 455.7 147.2 456.9 148.5 457.0C149.8 457.1 151.1 456.5 152.4 456.0C153.7 455.5 155.9 453.4 157.1 453.4C158.3 453.4 159.2 454.9 160.3 455.7C161.4 456.5 162.9 458.2 164.2 458.9C165.5 459.6 167.0 459.9 168.9 460.1C170.8 460.3 175.5 460.1 176.7 460.1" fill="none" stroke="#111" stroke-width="1.40" stroke-linejoin="round" stroke-linecap="butt" />
<path d="M91.5 505.2C91.8 504.3 92.8 501.3 93.4 499.4C94.0 497.4 94.9 494.5 95.8 492.2C96.7 489.9 98.3 485.8 99.2 484.0C100.1 482.2 101.0 481.2 101.6 480.0C102.2 478.8 102.5 477.5 103.3 476.0C104.1 474.5 105.7 471.5 106.7 470.0C107.8 468.5 109.1 466.8 110.3 465.8C111.5 464.8 113.3 463.8 114.5 463.2C115.7 462.6 116.4 462.0 118.0 462.0C119.6 462.0 122.8 462.8 125.0 463.3C127.2 463.8 130.5 464.6 132.9 465.1C135.3 465.6 138.6 466.3 140.7 466.7C142.8 467.1 145.3 467.0 147.0 467.5C148.7 468.0 150.4 469.0 151.7 469.8C153.0 470.6 154.4 472.3 155.6 473.0C156.8 473.7 158.0 474.2 159.5 474.5C161.0 474.8 163.1 475.1 165.7 475.3C168.3 475.5 175.0 476.0 176.7 476.1" fill="none" stroke="#111" stroke-width="1.40" stroke-linejoin="round" stroke-linecap="butt" />
<line x1="138.3" y1="338.2" x2="138.3" y2="350.0" stroke="#111" stroke-width="1.43" />
<line x1="154.0" y1="351.2" x2="165.7" y2="351.2" stroke="#111" stroke-width="1.43" />
<line x1="142.7" y1="371.5" x2="142.7" y2="383.2" stroke="#111" stroke-width="1.43" />
<line x1="152.4" y1="376.8" x2="163.4" y2="376.8" stroke="#111" stroke-width="1.43" />
<line x1="136.8" y1="427.3" x2="136.8" y2="442.4" stroke="#111" stroke-width="1.43" />
<line x1="152.4" y1="435.1" x2="164.2" y2="435.1" stroke="#111" stroke-width="1.43" />
<line x1="139.6" y1="446.3" x2="139.6" y2="458.1" stroke="#111" stroke-width="1.43" />
<line x1="151.7" y1="453.4" x2="163.4" y2="453.4" stroke="#111" stroke-width="1.43" />
<path d="M77.4 529.9L99.9 529.9L99.9 513.9" fill="none" stroke="#111" stroke-width="1.90" stroke-linejoin="round" stroke-linecap="butt" />
<text x="104.5" y="526.2" font-family="'Liberation Serif', serif" font-size="13.40"  text-anchor="start" fill="#111" textLength="34.6">50 µV</text>
<text x="73.4" y="543.8" font-family="'Liberation Serif', serif" font-size="13.80"  text-anchor="start" fill="#111" textLength="25.0" lengthAdjust="spacingAndGlyphs">7 ms</text>
<path d="M270.3 305.2h0M305.2 305.2h0M340.1 305.2h0M375.0 305.2h0M270.3 326.3h0M305.2 326.3h0M340.1 326.3h0M375.0 326.3h0M270.3 347.5h0M305.2 347.5h0M340.1 347.5h0M375.0 347.5h0M270.3 368.6h0M305.2 368.6h0M340.1 368.6h0M375.0 368.6h0M270.3 389.7h0M305.2 389.7h0M340.1 389.7h0M375.0 389.7h0M270.3 410.8h0M305.2 410.8h0M340.1 410.8h0M375.0 410.8h0M270.3 432.0h0M305.2 432.0h0M340.1 432.0h0M375.0 432.0h0M270.3 453.1h0M305.2 453.1h0M340.1 453.1h0M375.0 453.1h0M270.3 474.2h0M305.2 474.2h0M340.1 474.2h0M375.0 474.2h0M270.3 495.4h0M305.2 495.4h0M340.1 495.4h0M375.0 495.4h0M270.3 516.5h0M305.2 516.5h0M340.1 516.5h0M375.0 516.5h0" stroke="#111" stroke-width="2.08" stroke-linecap="round" fill="none"/>
<line x1="236.3" y1="305.2" x2="238.1" y2="305.2" stroke="#111" stroke-width="1.10" />
<line x1="236.3" y1="326.3" x2="238.1" y2="326.3" stroke="#111" stroke-width="1.10" />
<line x1="236.3" y1="347.5" x2="238.1" y2="347.5" stroke="#111" stroke-width="1.10" />
<line x1="236.3" y1="368.6" x2="238.1" y2="368.6" stroke="#111" stroke-width="1.10" />
<line x1="236.3" y1="389.7" x2="238.1" y2="389.7" stroke="#111" stroke-width="1.10" />
<line x1="236.3" y1="410.8" x2="238.1" y2="410.8" stroke="#111" stroke-width="1.10" />
<line x1="236.3" y1="432.0" x2="238.1" y2="432.0" stroke="#111" stroke-width="1.10" />
<line x1="236.3" y1="453.1" x2="238.1" y2="453.1" stroke="#111" stroke-width="1.10" />
<line x1="236.3" y1="474.2" x2="238.1" y2="474.2" stroke="#111" stroke-width="1.10" />
<line x1="236.3" y1="495.4" x2="238.1" y2="495.4" stroke="#111" stroke-width="1.10" />
<line x1="236.3" y1="516.5" x2="238.1" y2="516.5" stroke="#111" stroke-width="1.10" />
<line x1="236.3" y1="287.7" x2="236.3" y2="518.5" stroke="#111" stroke-width="1.71" />
<path d="M239.1 287.7C239.1 292.7 239.1 314.7 239.1 325.1C239.1 335.4 239.1 358.2 239.2 365.1C239.3 372.0 239.4 374.8 239.7 376.6C239.9 378.4 240.8 378.5 241.3 378.7C241.8 379.0 242.8 378.6 243.4 378.5C244.0 378.3 245.0 377.5 245.5 377.4C246.1 377.3 246.9 377.2 247.4 377.7C247.9 378.2 248.8 380.2 249.3 381.1C249.7 382.0 250.5 384.7 250.9 384.3C251.3 384.0 251.8 381.0 252.2 378.5C252.6 375.9 253.6 368.1 254.1 365.1C254.6 362.1 255.5 357.5 256.0 355.8C256.4 354.0 256.9 352.0 257.3 351.8C257.6 351.5 258.3 353.2 258.6 353.9C259.0 354.6 259.6 356.7 260.0 357.1C260.4 357.5 261.1 356.7 261.6 356.6C262.0 356.4 262.9 355.9 263.4 356.0C264.0 356.2 265.1 357.3 265.6 357.6C266.0 357.9 266.6 358.9 266.9 358.2C267.2 357.4 267.7 354.0 268.0 351.8C268.3 349.5 268.9 342.8 269.3 341.6C269.7 340.4 270.4 342.1 270.9 342.7C271.4 343.2 272.3 344.8 272.8 345.9C273.2 346.9 274.0 349.0 274.4 350.4C274.8 351.8 275.5 354.2 276.0 356.6C276.5 358.9 277.5 364.9 278.1 367.8C278.7 370.7 279.6 375.7 280.3 378.5C280.9 381.2 282.0 386.3 282.7 388.6C283.3 390.9 284.6 394.1 285.3 395.8C286.1 397.5 287.5 400.1 288.3 401.2C289.0 402.3 290.3 403.6 290.9 404.1C291.6 404.6 292.5 405.4 293.1 405.2C293.6 404.9 294.6 403.1 295.2 402.0C295.8 400.8 296.7 398.0 297.3 396.6C298.0 395.2 299.3 392.5 300.0 391.3C300.7 390.1 302.0 388.3 302.7 387.5C303.4 386.8 304.6 386.0 305.4 385.4C306.1 384.8 307.3 383.8 308.0 383.3C308.7 382.7 310.1 381.6 310.7 381.1C311.3 380.7 312.3 380.0 312.8 380.1C313.4 380.1 314.4 381.6 315.0 381.7C315.5 381.7 316.5 381.0 317.1 380.6C317.7 380.2 319.1 378.9 319.8 378.7C320.5 378.5 321.8 379.1 322.4 379.3C323.1 379.4 324.2 380.2 324.8 380.1C325.5 379.9 326.4 378.3 327.0 377.9C327.5 377.6 328.3 377.2 328.9 377.4C329.4 377.5 330.4 378.7 331.0 379.0C331.6 379.2 332.4 379.3 333.1 379.3C333.8 379.2 335.5 378.8 336.3 378.7C337.2 378.6 338.7 378.5 339.5 378.5C340.4 378.5 341.9 378.7 342.7 378.7C343.6 378.8 344.9 378.8 345.7 378.7C346.5 378.6 348.0 378.2 348.9 377.9C349.8 377.7 351.5 377.2 352.3 376.9C353.2 376.5 354.8 375.7 355.6 375.5C356.3 375.3 357.5 375.2 358.2 375.3C358.9 375.3 360.0 375.9 360.9 376.1C361.8 376.2 363.7 376.3 364.9 376.3C366.1 376.4 368.8 376.3 370.2 376.3C371.7 376.4 374.3 376.4 375.6 376.6C376.8 376.7 378.6 377.2 379.6 377.4C380.5 377.6 382.4 377.9 382.8 377.9" fill="none" stroke="#111" stroke-width="1.34" stroke-linejoin="round" stroke-linecap="butt" />
<line x1="250.5" y1="374.5" x2="250.5" y2="394.5" stroke="#111" stroke-width="1.32" />
<line x1="269.5" y1="332.5" x2="269.5" y2="349.6" stroke="#111" stroke-width="1.32" />
<line x1="292.5" y1="397.1" x2="292.5" y2="415.0" stroke="#111" stroke-width="1.32" />
<line x1="345.5" y1="370.4" x2="345.5" y2="388.3" stroke="#111" stroke-width="1.32" />
<text x="250.9" y="371.0" font-family="'Liberation Sans', sans-serif" font-size="9.20" font-weight="bold" text-anchor="middle" fill="#000" stroke="#000" stroke-width="0.00">1</text>
<text x="269.3" y="328.5" font-family="'Liberation Sans', sans-serif" font-size="9.20" font-weight="bold" text-anchor="middle" fill="#000" stroke="#000" stroke-width="0.00">2</text>
<text x="293.3" y="391.3" font-family="'Liberation Sans', sans-serif" font-size="9.20" font-weight="bold" text-anchor="middle" fill="#000" stroke="#000" stroke-width="0.00">3</text>
<text x="345.7" y="365.4" font-family="'Liberation Sans', sans-serif" font-size="9.20" font-weight="bold" text-anchor="middle" fill="#000" stroke="#000" stroke-width="0.00">4</text>
<text x="198.0" y="373.8" font-family="'Liberation Serif', serif" font-size="13.70" font-weight="bold" stroke="#111" stroke-width="0.30" text-anchor="start" fill="#111" >DMS</text>
<path d="M236.5 518.5C236.5 515.8 236.6 503.3 236.7 498.4C236.8 493.6 237.1 485.0 237.3 481.8C237.5 478.5 237.8 475.5 238.1 474.0C238.5 472.5 239.4 471.2 240.1 470.6C240.7 470.0 241.9 469.7 242.9 469.5C243.8 469.3 245.7 469.3 247.0 469.2C248.3 469.2 251.1 469.2 252.6 469.2C254.1 469.3 256.9 469.4 258.2 469.5C259.4 469.6 261.5 470.1 262.3 470.1C263.2 470.1 264.0 469.7 264.5 469.5C265.1 469.4 266.2 468.9 266.8 469.0C267.4 469.0 268.4 469.6 269.0 469.8C269.6 470.0 270.4 470.5 271.2 470.6C272.0 470.7 273.8 470.6 274.8 470.6C275.9 470.7 277.9 470.8 279.0 470.9C280.1 471.0 282.3 471.1 283.2 471.2C284.1 471.3 285.2 471.6 286.0 471.5C286.7 471.3 288.0 470.6 288.7 470.1C289.5 469.6 290.8 468.6 291.5 467.9C292.3 467.1 293.6 465.6 294.3 464.5C295.0 463.4 296.0 460.7 296.5 459.5C297.1 458.4 297.8 456.5 298.2 455.9C298.6 455.3 299.2 454.8 299.6 454.8C300.0 454.7 300.8 455.2 301.3 455.6C301.7 456.1 302.7 457.3 303.2 458.1C303.7 458.9 304.6 460.7 305.2 461.7C305.7 462.8 306.6 464.6 307.1 465.9C307.6 467.2 308.5 469.8 309.1 471.5C309.6 473.1 310.7 476.8 311.3 478.4C311.9 480.1 312.9 482.7 313.5 484.0C314.1 485.2 315.1 487.1 315.7 487.9C316.3 488.6 317.4 489.2 318.0 489.5C318.5 489.9 319.6 490.6 320.2 490.7C320.7 490.7 321.7 489.9 322.1 490.1C322.5 490.3 323.0 491.5 323.2 492.3C323.5 493.1 323.9 496.8 324.1 496.2C324.3 495.6 324.6 490.4 324.9 487.9C325.2 485.4 325.7 480.0 326.0 477.6C326.3 475.2 326.8 471.6 327.1 470.1C327.4 468.6 328.0 466.1 328.2 466.2C328.5 466.3 329.1 469.1 329.4 470.6C329.7 472.2 330.2 477.0 330.5 477.6C330.8 478.1 331.3 475.6 331.6 474.8C331.9 474.0 332.4 471.3 332.7 471.5C333.0 471.7 333.7 474.9 334.1 476.2C334.5 477.5 335.1 480.9 335.5 480.9C335.9 481.0 336.5 478.0 336.9 476.8C337.2 475.5 337.9 471.9 338.3 471.5C338.6 471.0 339.3 472.6 339.7 473.4C340.0 474.3 340.7 477.9 341.0 477.9C341.4 477.9 341.9 474.5 342.2 473.4C342.4 472.4 342.7 469.6 343.0 470.1C343.2 470.5 343.8 475.0 344.1 476.8C344.4 478.5 344.8 482.5 345.2 483.2C345.6 483.8 346.4 481.9 346.9 481.8C347.3 481.6 348.1 481.5 348.6 481.8C349.0 482.0 349.8 483.4 350.2 483.7C350.7 484.0 351.4 484.2 351.9 484.0C352.4 483.8 353.6 482.7 354.1 482.3C354.7 481.9 355.5 481.3 356.1 480.9C356.6 480.6 357.5 480.0 358.0 479.5C358.5 479.1 359.2 478.5 359.7 477.6C360.1 476.7 360.9 473.9 361.3 472.9C361.8 471.9 362.6 470.7 363.0 470.1C363.5 469.4 364.3 467.9 364.7 467.9C365.1 467.9 365.7 469.3 366.1 470.1C366.4 470.9 367.1 472.8 367.5 474.0C367.8 475.2 368.3 477.9 368.6 479.0C368.9 480.1 369.3 481.7 369.7 482.3C370.1 482.9 371.0 483.8 371.4 483.4C371.7 483.1 372.2 480.9 372.5 479.5C372.8 478.2 373.3 474.5 373.6 473.4C373.8 472.4 374.2 471.5 374.4 471.7C374.7 472.0 375.2 474.3 375.5 475.1C375.8 475.9 376.4 477.9 376.6 477.9C376.9 477.8 377.5 475.1 377.8 474.5C378.1 473.9 378.6 473.2 378.9 473.4C379.2 473.6 379.7 475.6 380.0 476.2C380.3 476.8 380.8 477.5 381.1 477.9C381.4 478.2 381.9 478.6 382.2 479.0C382.5 479.3 383.4 480.4 383.6 480.6" fill="none" stroke="#111" stroke-width="1.29" stroke-linejoin="round" stroke-linecap="butt" />
<line x1="285.5" y1="463.7" x2="285.5" y2="481.8" stroke="#111" stroke-width="1.32" />
<line x1="299.5" y1="445.0" x2="299.5" y2="464.5" stroke="#111" stroke-width="1.32" />
<line x1="324.5" y1="484.5" x2="324.5" y2="504.6" stroke="#111" stroke-width="1.32" />
<line x1="356.5" y1="472.0" x2="356.5" y2="491.5" stroke="#111" stroke-width="1.32" />
<text x="286.0" y="458.4" font-family="'Liberation Sans', sans-serif" font-size="9.20" font-weight="bold" text-anchor="middle" fill="#000" stroke="#000" stroke-width="0.00">1</text>
<text x="299.9" y="440.9" font-family="'Liberation Sans', sans-serif" font-size="9.20" font-weight="bold" text-anchor="middle" fill="#000" stroke="#000" stroke-width="0.00">2</text>
<text x="323.8" y="481.2" font-family="'Liberation Sans', sans-serif" font-size="9.20" font-weight="bold" text-anchor="middle" fill="#000" stroke="#000" stroke-width="0.00">3</text>
<text x="356.9" y="468.1" font-family="'Liberation Sans', sans-serif" font-size="9.20" font-weight="bold" text-anchor="middle" fill="#000" stroke="#000" stroke-width="0.00">4</text>
<text x="199.0" y="474.9" font-family="'Liberation Serif', serif" font-size="13.40" font-weight="bold" stroke="#111" stroke-width="0.29" text-anchor="start" fill="#111" >NMS</text>
<path d="M340.1 559.7L374.9 559.7L374.9 535.3" fill="none" stroke="#111" stroke-width="1.90" stroke-linejoin="round" stroke-linecap="butt" />
<text x="376.9" y="553.5" font-family="'Liberation Serif', serif" font-size="14.00"  text-anchor="start" fill="#111" textLength="29.2" lengthAdjust="spacingAndGlyphs">1 mV</text>
<text x="348.0" y="573.6" font-family="'Liberation Serif', serif" font-size="13.60"  text-anchor="start" fill="#111" >5 ms</text>
</svg>
</body></html>
